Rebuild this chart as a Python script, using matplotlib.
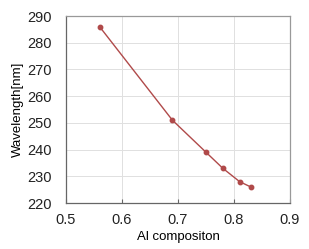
import matplotlib
matplotlib.use("Agg")
import matplotlib.pyplot as plt

al_comp = [0.56, 0.69, 0.75, 0.78, 0.81, 0.83]
wavelength = [286, 251, 239, 233, 228, 226]
x_ticks = [0.5, 0.6, 0.7, 0.8, 0.9]
y_ticks = [220, 230, 240, 250, 260, 270, 280, 290]

plt.rcParams['font.family'] = ['Liberation Sans', 'DejaVu Sans']

fig = plt.figure(figsize=(3.09, 2.49), dpi=100)
ax = fig.add_axes([66 / 309, 46 / 249, 224 / 309, 187 / 249])

ax.plot(al_comp, wavelength, color='#b04a4a', linewidth=1.0,
        marker='o', markersize=3.2, zorder=3)

ax.set_xlim(0.5, 0.9)
ax.set_ylim(220, 290)
ax.set_xticks(x_ticks)
ax.set_yticks(y_ticks)
ax.set_xticklabels([f"{v:.1f}" for v in x_ticks])
ax.grid(True, color='#e0e0e0', linewidth=0.7)
ax.set_axisbelow(True)
for side in ['top', 'right']:
    ax.spines[side].set_color('#999999')
for side in ['left', 'bottom']:
    ax.spines[side].set_color('#666666')
for s in ax.spines.values():
    s.set_linewidth(0.9)
ax.tick_params(axis='both', labelsize=10.5, length=0, colors='#222222')
ax.tick_params(axis='y', pad=10)
ax.tick_params(axis='x', pad=7, length=3, direction='in', color='#666666')

ax.set_xlabel('Al compositon', fontsize=9.5, labelpad=3)
ax.set_ylabel('Wavelength[nm]', fontsize=9.5, labelpad=3)

fig.savefig('out.png', dpi=100)
